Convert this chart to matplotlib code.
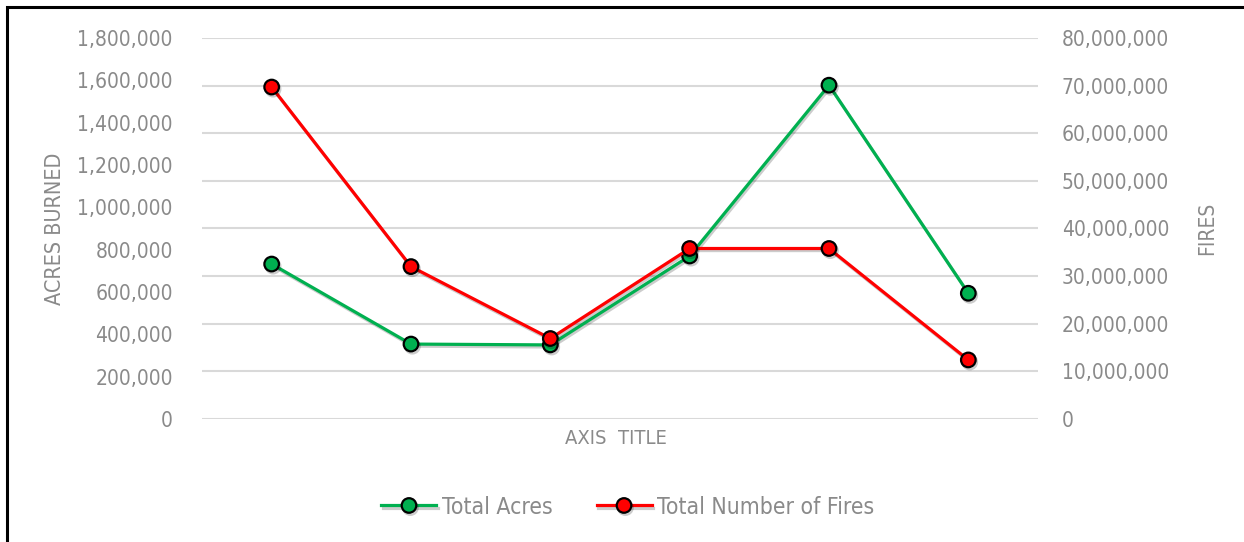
import matplotlib
matplotlib.use("Agg")
import matplotlib.pyplot as plt
import matplotlib.patheffects as pe
from matplotlib.patches import Rectangle
from matplotlib.ticker import FuncFormatter

# Donnees
categories = ["1", "2", "3", "4", "5", "6"]
total_acres = [732000, 354000, 350000, 770000, 1577000, 594000]
total_fires = [69700000, 32000000, 16900000, 35800000, 35800000, 12400000]
acres_ticks = [0, 200000, 400000, 600000, 800000, 1000000, 1200000, 1400000, 1600000, 1800000]
fires_ticks = [0, 10000000, 20000000, 30000000, 40000000, 50000000, 60000000, 70000000, 80000000]

plt.rcParams['font.family'] = ['DejaVu Sans Condensed', 'DejaVu Sans']
plt.rcParams['font.stretch'] = 'condensed'
GRIS = '#8a8a8a'
VERT = '#00B050'
ROUGE = '#FF0000'

W, H = 1244, 542
fig = plt.figure(figsize=(W / 100, H / 100), dpi=100)
pos = [202 / W, 1 - 419 / H, (1038 - 202) / W, (419 - 38) / H]

# axe de fond : seulement la grille (alignee sur l'axe de droite)
ax = fig.add_axes(pos)
ax.set_ylim(fires_ticks[0], fires_ticks[-1])
ax.set_yticks(fires_ticks)
ax.grid(axis='y', color='#d9d9d9', linewidth=1.5)
for s in ax.spines.values():
    s.set_visible(False)

x = list(range(len(categories)))
ombre = [pe.SimpleLineShadow(offset=(1, -1.5), alpha=0.2, shadow_color='black'), pe.Normal()]

# Total Acres -> axe de gauche
axL = ax.twinx()
axL.plot(x, total_acres, color=VERT, linewidth=2.3, marker='o', markersize=10.5,
         markerfacecolor=VERT, markeredgecolor='black', markeredgewidth=1.6,
         label='Total Acres', path_effects=ombre)
axL.set_ylim(acres_ticks[0], acres_ticks[-1])
axL.set_yticks(acres_ticks)
axL.yaxis.tick_left()
axL.yaxis.set_label_position('left')
axL.yaxis.set_major_formatter(FuncFormatter(lambda v, p: f"{int(v):,}"))
axL.tick_params(axis='y', length=0, pad=21, labelsize=15, labelcolor=GRIS)
axL.set_ylabel('ACRES BURNED', color=GRIS, fontsize=15.5)
axL.yaxis.set_label_coords(-0.164, 0.5)

# Total Number of Fires -> axe de droite
axR = ax.twinx()
axR.plot(x, total_fires, color=ROUGE, linewidth=2.3, marker='o', markersize=10.5,
         markerfacecolor=ROUGE, markeredgecolor='black', markeredgewidth=1.6,
         label='Total Number of Fires', path_effects=ombre)
axR.set_ylim(fires_ticks[0], fires_ticks[-1])
axR.set_yticks(fires_ticks)
axR.yaxis.set_major_formatter(FuncFormatter(lambda v, p: f"{int(v):,}"))
axR.tick_params(axis='y', length=0, pad=17, labelsize=15, labelcolor=GRIS)
axR.set_ylabel('FIRES', color=GRIS, fontsize=15, rotation=90)
axR.yaxis.set_label_coords(1.19, 0.5)

for a in (ax, axL, axR):
    a.set_xlim(-0.5, len(categories) - 0.5)
    a.tick_params(bottom=False, labelbottom=False)
    for s in a.spines.values():
        s.set_visible(False)
ax.tick_params(axis='y', left=False, right=False, labelleft=False, labelright=False)

ax.text(0.495, -0.05, 'AXIS  TITLE', transform=ax.transAxes, ha='center', va='center',
        color=GRIS, fontsize=14.5)

h1, l1 = axL.get_legend_handles_labels()
h2, l2 = axR.get_legend_handles_labels()
leg = fig.legend(h1 + h2, l1 + l2, loc='center', bbox_to_anchor=(628 / W, 1 - 507 / H),
                 ncol=2, frameon=False, fontsize=16.5, handlelength=2.4, columnspacing=1.9,
                 handletextpad=0.25)
for t in leg.get_texts():
    t.set_color(GRIS)

# cadre noir (coupe a droite et en bas)
fig.patches.append(Rectangle((6.5 / W, -0.1), 1.2, 1.1 - 6.5 / H, transform=fig.transFigure,
                             fill=False, edgecolor='black', linewidth=2.2, clip_on=False))

fig.savefig('out.png', dpi=100)
